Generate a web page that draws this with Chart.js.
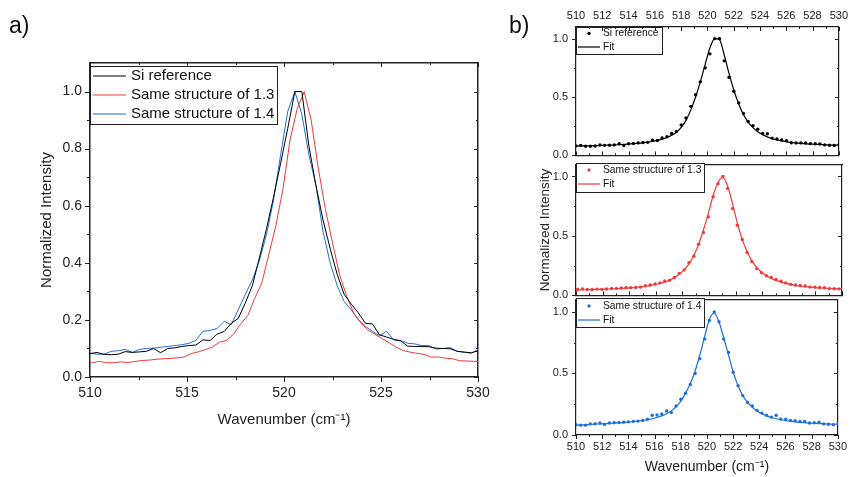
<!DOCTYPE html>
<html lang="en">
<head>
<meta charset="UTF-8">
<title>Si Raman peak</title>
<style>
  body { margin: 0; background: #fff; }
  #fig { position: relative; width: 852px; height: 477px; overflow: hidden; font-family: 'Liberation Sans', Arial, sans-serif; }
  #fig canvas { position: absolute; }
  .tag { position: absolute; font-size: 23px; line-height: 23px; color: #111; }
</style>
<script src="https://cdn.jsdelivr.net/npm/chart.js"></script>
</head>
<body>
<div id="fig">
  <canvas id="chartA" width="500" height="477" style="left:0px;top:0px"></canvas>
  <canvas id="chartB1" width="352" height="170" style="left:500px;top:0px"></canvas>
  <canvas id="chartB2" width="352" height="160" style="left:500px;top:150px"></canvas>
  <canvas id="chartB3" width="352" height="192" style="left:500px;top:285px"></canvas>
  <div class="tag" style="left:9px;top:14px">a)</div>
  <div class="tag" style="left:509px;top:14px">b)</div>
</div>
<script>
// wavenumbers (cm-1) of the Si reference and the 1.4 sample
const wnRef = [510.00, 510.36, 510.73, 511.09, 511.46, 511.82, 512.18, 512.55, 512.91, 513.28,
  513.64, 514.00, 514.37, 514.73, 515.10, 515.46, 515.82, 516.19, 516.55, 516.92,
  517.28, 517.64, 518.01, 518.37, 518.74, 519.10, 519.46, 519.83, 520.19, 520.56,
  520.92, 521.28, 521.65, 522.01, 522.38, 522.74, 523.10, 523.47, 523.83, 524.20,
  524.56, 524.92, 525.29, 525.65, 526.02, 526.38, 526.74, 527.11, 527.47, 527.84,
  528.20, 528.56, 528.93, 529.29, 529.66, 530.02];
// the 1.3 sample was recorded on a slightly shifted grid
const wn13 = [509.76, 510.12, 510.48, 510.85, 511.21, 511.58, 511.94, 512.30, 512.67, 513.03,
  513.40, 513.76, 514.12, 514.49, 514.85, 515.22, 515.58, 515.94, 516.31, 516.67,
  517.04, 517.40, 517.76, 518.13, 518.49, 518.86, 519.22, 519.58, 519.95, 520.31,
  520.68, 521.04, 521.40, 521.77, 522.13, 522.50, 522.86, 523.22, 523.59, 523.95,
  524.32, 524.68, 525.04, 525.41, 525.77, 526.14, 526.50, 526.86, 527.23, 527.59,
  527.96, 528.32, 528.68, 529.05, 529.41, 529.78, 530.14];

// normalized intensities
const siRef = [0.082, 0.086, 0.079, 0.078, 0.080, 0.089, 0.086, 0.088, 0.090, 0.100,
  0.085, 0.100, 0.102, 0.107, 0.110, 0.112, 0.130, 0.128, 0.150, 0.160,
  0.188, 0.205, 0.260, 0.320, 0.420, 0.520, 0.630, 0.750, 0.870, 1.000,
  1.000, 0.810, 0.670, 0.550, 0.450, 0.360, 0.290, 0.255, 0.225, 0.188,
  0.186, 0.148, 0.140, 0.132, 0.126, 0.108, 0.107, 0.107, 0.106, 0.101,
  0.100, 0.099, 0.090, 0.087, 0.085, 0.092];
const s13 = [0.048, 0.050, 0.055, 0.050, 0.050, 0.053, 0.051, 0.054, 0.058, 0.059,
  0.062, 0.064, 0.065, 0.067, 0.070, 0.082, 0.088, 0.096, 0.105, 0.122,
  0.128, 0.150, 0.185, 0.215, 0.275, 0.330, 0.430, 0.530, 0.660, 0.830,
  0.940, 1.000, 0.900, 0.730, 0.590, 0.470, 0.360, 0.285, 0.225, 0.190,
  0.165, 0.150, 0.135, 0.120, 0.105, 0.093, 0.087, 0.083, 0.079, 0.070,
  0.070, 0.066, 0.064, 0.057, 0.056, 0.055, 0.054];
const s14 = [0.083, 0.080, 0.080, 0.090, 0.092, 0.097, 0.086, 0.097, 0.100, 0.101,
  0.104, 0.107, 0.110, 0.113, 0.118, 0.128, 0.160, 0.163, 0.170, 0.195,
  0.183, 0.235, 0.290, 0.340, 0.410, 0.500, 0.620, 0.780, 0.930, 1.000,
  0.920, 0.780, 0.670, 0.510, 0.400, 0.320, 0.265, 0.235, 0.200, 0.178,
  0.160, 0.145, 0.160, 0.130, 0.128, 0.118, 0.116, 0.110, 0.110, 0.098,
  0.100, 0.103, 0.090, 0.087, 0.083, 0.097];

// fitted peak profiles
const fitRef = [0.080, 0.081, 0.082, 0.083, 0.084, 0.085, 0.087, 0.088, 0.090, 0.092,
  0.094, 0.097, 0.100, 0.104, 0.108, 0.113, 0.120, 0.128, 0.139, 0.153,
  0.172, 0.198, 0.240, 0.300, 0.390, 0.500, 0.630, 0.780, 0.920, 1.000,
  0.990, 0.860, 0.700, 0.560, 0.440, 0.350, 0.285, 0.238, 0.203, 0.178,
  0.159, 0.144, 0.133, 0.124, 0.117, 0.111, 0.107, 0.103, 0.100, 0.097,
  0.095, 0.093, 0.091, 0.089, 0.088, 0.087];
const fit13 = [0.045, 0.046, 0.047, 0.048, 0.049, 0.050, 0.051, 0.053, 0.055, 0.057,
  0.059, 0.061, 0.064, 0.067, 0.071, 0.076, 0.082, 0.090, 0.100, 0.112,
  0.128, 0.150, 0.178, 0.215, 0.265, 0.335, 0.430, 0.550, 0.690, 0.840,
  0.950, 0.990, 0.920, 0.770, 0.610, 0.470, 0.370, 0.290, 0.235, 0.195,
  0.165, 0.143, 0.126, 0.112, 0.101, 0.092, 0.085, 0.079, 0.074, 0.070,
  0.066, 0.063, 0.061, 0.059, 0.057, 0.055, 0.054];
const fit14 = [0.080, 0.082, 0.084, 0.086, 0.088, 0.090, 0.092, 0.094, 0.097, 0.099,
  0.102, 0.105, 0.109, 0.113, 0.118, 0.124, 0.132, 0.142, 0.155, 0.172,
  0.196, 0.228, 0.275, 0.340, 0.420, 0.520, 0.650, 0.800, 0.940, 0.990,
  0.920, 0.790, 0.650, 0.510, 0.400, 0.320, 0.265, 0.225, 0.195, 0.172,
  0.155, 0.142, 0.132, 0.124, 0.117, 0.112, 0.107, 0.103, 0.100, 0.097,
  0.095, 0.093, 0.091, 0.089, 0.088, 0.087];

const labels = ['Si reference', 'Same structure of 1.3', 'Same structure of 1.4'];

// tick positions
const aTicksX = [510, 515, 520, 525, 530];
const aMinorX = [512.5, 517.5, 522.5, 527.5];
const aTicksY = [0.0, 0.2, 0.4, 0.6, 0.8, 1.0];
const aMinorY = [0.1, 0.3, 0.5, 0.7, 0.9];
const bTicksX = [510, 512, 514, 516, 518, 520, 522, 524, 526, 528, 530];
const bMinorX = [511, 513, 515, 517, 519, 521, 523, 525, 527, 529];
const bTicksY = [0.0, 0.5, 1.0];
const bMinorY = [0.25, 0.75];

const FONT = "'Liberation Sans', Arial, sans-serif";
const BLACK = '#000000', RED = '#f03a3a', BLUE = '#1f6fdc';
Chart.defaults.font.family = FONT;
Chart.defaults.color = '#111';

const pts = (xs, ys) => xs.map((x, i) => ({ x, y: ys[i] }));

// small tick marks drawn on the frame, inward or outward per side
const tickMarks = {
  id: 'tickMarks',
  afterDraw(chart, args, o) {
    const { ctx, chartArea: a, scales } = chart;
    ctx.save();
    ctx.strokeStyle = o.color;
    ctx.lineWidth = 1;
    const mark = (vals, len, side) => {
      vals.forEach(v => {
        ctx.beginPath();
        if (side === 'bottom' || side === 'top') {
          const p = Math.round(scales.x.getPixelForValue(v)) + 0.5;
          const y0 = side === 'bottom' ? a.bottom : a.top;
          ctx.moveTo(p, y0); ctx.lineTo(p, y0 + len);
        } else {
          const p = Math.round(scales.y.getPixelForValue(v)) + 0.5;
          const x0 = side === 'left' ? a.left : a.right;
          ctx.moveTo(x0, p); ctx.lineTo(x0 + len, p);
        }
        ctx.stroke();
      });
    };
    Object.entries(o.sides).forEach(([side, [major, minor]]) => {
      const horiz = side === 'bottom' || side === 'top';
      mark(horiz ? o.xMajor : o.yMajor, major, side);
      mark(horiz ? o.xMinor : o.yMinor, minor, side);
    });
    ctx.restore();
  }
};

// framed legend in the upper left corner of the plot
const boxLegend = {
  id: 'boxLegend',
  afterDatasetsDraw(chart, args, o) {
    const ctx = chart.ctx;
    ctx.save();
    ctx.fillStyle = '#fff';
    ctx.fillRect(o.x, o.y, o.w, o.h);
    ctx.strokeStyle = '#222';
    ctx.lineWidth = 1;
    ctx.strokeRect(o.x + 0.5, o.y + 0.5, o.w, o.h);
    ctx.font = o.font;
    ctx.textBaseline = 'middle';
    ctx.textAlign = 'left';
    chart.data.datasets.forEach((ds, i) => {
      const cy = o.y + o.first + i * o.row;
      if (ds.showLine === false) {
        ctx.fillStyle = ds.backgroundColor;
        ctx.beginPath();
        ctx.arc((o.x0 + o.x1) / 2, cy, ds.pointRadius, 0, 2 * Math.PI);
        ctx.fill();
      } else {
        ctx.strokeStyle = ds.borderColor;
        ctx.lineWidth = ds.borderWidth;
        ctx.beginPath();
        ctx.moveTo(o.x0, cy); ctx.lineTo(o.x1, cy);
        ctx.stroke();
      }
      ctx.fillStyle = '#111';
      ctx.fillText(ds.label, o.textX, cy);
    });
    ctx.restore();
  }
};

function axes(s) {
  const border = { color: '#222', width: s.axisWidth };
  const base = { type: 'linear', bounds: 'data', grid: { display: false, drawTicks: false }, border };
  const tickFont = { family: FONT, size: s.tickSize };
  const xPart = {
    ...base, min: 510, max: 530,
    afterBuildTicks: sc => { sc.ticks = s.xTicks.map(v => ({ value: v })); }
  };
  const yPart = {
    ...base, min: 0, max: 1.1,
    afterBuildTicks: sc => { sc.ticks = s.yTicks.map(v => ({ value: v })); }
  };
  return {
    x: {
      ...xPart, position: 'bottom',
      ticks: { display: !!s.bottomLabels, font: tickFont, color: '#222', padding: s.xPad, maxRotation: 0, autoSkip: false, callback: v => String(v) },
      title: s.xTitle ? { display: true, text: s.xTitle, color: '#222', font: { family: FONT, size: s.titleSize }, padding: { top: 0, bottom: s.xTitlePad } } : { display: false },
      afterFit: sc => { sc.height = s.bottom; }
    },
    x2: {
      ...xPart, position: 'top',
      ticks: { display: !!s.topLabels, font: tickFont, color: '#222', padding: s.topPad, maxRotation: 0, autoSkip: false, callback: v => String(v) },
      afterFit: sc => { sc.height = s.top; }
    },
    y: {
      ...yPart, position: 'left',
      ticks: { font: tickFont, color: '#222', padding: s.yPad, callback: v => v.toFixed(1) },
      title: s.yTitle ? { display: true, text: s.yTitle, color: '#222', font: { family: FONT, size: s.yTitleSize }, padding: { top: s.yTitlePad, bottom: 0 } } : { display: false },
      afterFit: sc => { sc.width = s.left; }
    },
    y2: {
      ...yPart, position: 'right',
      ticks: { display: false },
      afterFit: sc => { sc.width = s.right; }
    }
  };
}

function makeChart(id, datasets, s, legend, sides) {
  return new Chart(document.getElementById(id), {
    type: 'line',
    data: { datasets },
    options: {
      responsive: false,
      animation: false,
      devicePixelRatio: 1,
      layout: { padding: 0 },
      scales: axes(s),
      plugins: {
        legend: { display: false },
        tooltip: { enabled: false },
        boxLegend: legend,
        tickMarks: { color: '#222', sides, xMajor: s.xTicks, xMinor: s.xMinor, yMajor: s.yTicks, yMinor: s.yMinor }
      }
    },
    plugins: [boxLegend, tickMarks]
  });
}

// a) the three measured spectra
const lineSet = (label, xs, ys, color) => ({
  label, data: pts(xs, ys), borderColor: color, backgroundColor: color,
  borderWidth: 1, pointRadius: 0, tension: 0
});
makeChart('chartA', [
  lineSet(labels[0], wnRef, siRef, BLACK),
  lineSet(labels[1], wn13, s13, RED),
  lineSet(labels[2], wnRef, s14, BLUE)
], {
  axisWidth: 1.5, tickSize: 14, titleSize: 15, yTitleSize: 15,
  left: 90, right: 22, top: 63, bottom: 100,
  xPad: 8, yPad: 8, xTitle: 'Wavenumber (cm⁻¹)', xTitlePad: 48,
  yTitle: 'Normalized Intensity', yTitlePad: 38, bottomLabels: true,
  xTicks: aTicksX, xMinor: aMinorX, yTicks: aTicksY, yMinor: aMinorY
}, {
  x: 90, y: 66, w: 187, h: 58, first: 10, row: 19,
  x0: 93, x1: 126, textX: 131, font: `15px ${FONT}`
}, { bottom: [5, 3], left: [-5, -3], top: [4, 2], right: [-4, -2] });

// b) each spectrum with its fitted profile
const pair = (label, xs, ys, fit, color) => [
  { label, data: pts(xs, ys), showLine: false, borderColor: color, backgroundColor: color, pointRadius: 1.7, pointBorderWidth: 0 },
  { label: 'Fit', data: pts(xs, fit), borderColor: color, backgroundColor: color, borderWidth: 1.2, pointRadius: 0, cubicInterpolationMode: 'monotone' }
];
const bBase = {
  axisWidth: 1.2, tickSize: 11, titleSize: 14, yTitleSize: 13.5,
  left: 76, right: 10, xPad: 5, yPad: 8, topPad: 4,
  xTicks: bTicksX, xMinor: bMinorX, yTicks: bTicksY, yMinor: bMinorY
};
const bLegend = { x: 76, first: 7, row: 14, x0: 78, x1: 100, textX: 103, font: `10.3px ${FONT}` };

makeChart('chartB1', pair(labels[0], wnRef, siRef, fitRef, BLACK),
  { ...bBase, top: 27, bottom: 7, topLabels: true },
  { ...bLegend, y: 27, w: 86, h: 27, first: 6.5, row: 13.5 },
  { top: [4, 2], bottom: [-4, -2], left: [-4, -2], right: [-4, -2] });

makeChart('chartB2', pair(labels[1], wn13, s13, fit13, RED),
  { ...bBase, top: 13, bottom: 12, yTitle: 'Normalized Intensity', yTitlePad: 37 },
  { ...bLegend, y: 13, w: 128, h: 29 },
  { bottom: [-4, -2], left: [-4, -2], right: [-4, -2] });

makeChart('chartB3', pair(labels[2], wnRef, s14, fit14, BLUE),
  { ...bBase, top: 13, bottom: 42, bottomLabels: true, xTitle: 'Wavenumber (cm⁻¹)', xTitlePad: 1 },
  { ...bLegend, y: 13, w: 128, h: 29, first: 8 },
  { bottom: [4, 2], left: [-4, -2], right: [-4, -2] });
</script>
</body>
</html>
